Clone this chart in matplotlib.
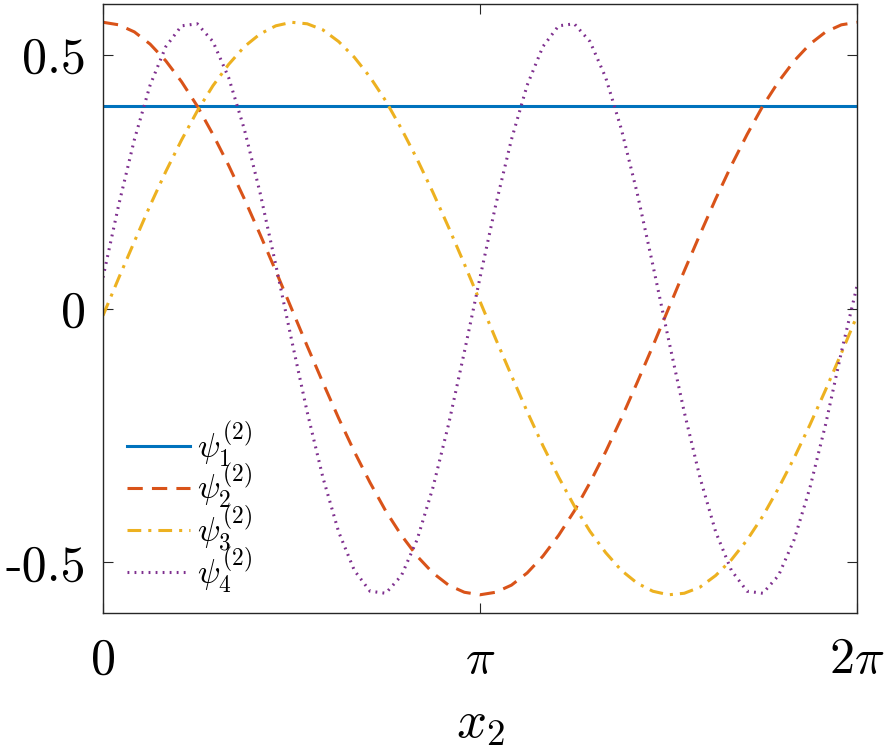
import numpy as np
import matplotlib
matplotlib.use('Agg')
import matplotlib.pyplot as plt

plt.rcParams['mathtext.fontset'] = 'cm'
plt.rcParams['axes.unicode_minus'] = False

# sample points: x2 = k*pi/24, k = 0..48
x2 = np.arange(49) * np.pi / 24

psi1 = [0.399] * 49

psi2 = [0.564, 0.559, 0.545, 0.521, 0.488, 0.447, 0.399, 0.343, 0.282, 0.216,
        0.146, 0.074, 0.0, -0.074, -0.146, -0.216, -0.282, -0.343, -0.399,
        -0.447, -0.488, -0.521, -0.545, -0.559, -0.564, -0.559, -0.545, -0.521,
        -0.488, -0.447, -0.399, -0.343, -0.282, -0.216, -0.146, -0.074, 0.0,
        0.074, 0.146, 0.216, 0.282, 0.343, 0.399, 0.447, 0.488, 0.521, 0.545,
        0.559, 0.564]

psi3 = [-0.014, 0.060, 0.132, 0.203, 0.270, 0.332, 0.389, 0.439, 0.481, 0.516,
        0.541, 0.557, 0.564, 0.561, 0.549, 0.526, 0.495, 0.456, 0.409, 0.354,
        0.294, 0.229, 0.160, 0.088, 0.014, -0.060, -0.132, -0.203, -0.270,
        -0.332, -0.389, -0.439, -0.481, -0.516, -0.541, -0.557, -0.564, -0.561,
        -0.549, -0.526, -0.495, -0.456, -0.409, -0.354, -0.294, -0.229, -0.160,
        -0.088, -0.014]

psi4 = [0.061, 0.204, 0.333, 0.440, 0.516, 0.557, 0.561, 0.526, 0.455, 0.353,
        0.228, 0.086, -0.061, -0.204, -0.333, -0.440, -0.516, -0.557, -0.561,
        -0.526, -0.455, -0.353, -0.228, -0.086, 0.061, 0.204, 0.333, 0.440,
        0.516, 0.557, 0.561, 0.526, 0.455, 0.353, 0.228, 0.086, -0.061, -0.204,
        -0.333, -0.440, -0.516, -0.557, -0.561, -0.526, -0.455, -0.353, -0.228,
        -0.086, 0.045]

labels = [r'$\psi_1^{(2)}$', r'$\psi_2^{(2)}$', r'$\psi_3^{(2)}$', r'$\psi_4^{(2)}$']
xtick_labels = [r'$0$', r'$\pi$', r'$2\pi$']
yticks = [-0.5, 0, 0.5]
ytick_labels = ['-0.5', '0', '0.5']

fig = plt.figure(figsize=(8.9, 7.55), dpi=100)
ax = fig.add_axes([0.1157, 0.188, 0.8473, 0.8067])

lw = 2.2
ax.plot(x2, psi1, color='#0072BD', lw=lw, label=labels[0])
ax.plot(x2, psi2, color='#D95319', lw=lw, ls=(0, (5, 3)), label=labels[1])
ax.plot(x2, psi3, color='#EDB120', lw=lw, ls=(0, (4.5, 2.3, 1, 2.3)), label=labels[2])
ax.plot(x2, psi4, color='#7E2F8E', lw=lw, ls=(0, (0.6, 1.7)), label=labels[3])

ax.set_xlim(0, 2 * np.pi)
ax.set_ylim(-0.6, 0.6)
ax.set_xticks([0, np.pi, 2 * np.pi])
ax.set_xticklabels(xtick_labels, fontsize=36)
ax.set_yticks(yticks)
ax.set_yticklabels(ytick_labels, fontsize=36, fontfamily='cmr10')
ax.tick_params(direction='in', top=True, right=True, length=7, width=0.8,
               color='#262626', pad=12)
ax.tick_params(axis='x', pad=16)
for s in ax.spines.values():
    s.set_color('#262626')
    s.set_linewidth(1.0)

ax.set_xlabel(r'$x_2$', fontsize=38, labelpad=9)

ax.legend(loc='upper left', frameon=False, fontsize=24, handlelength=1.9,
          handletextpad=0.2, labelspacing=-0.22, borderaxespad=0.0,
          bbox_to_anchor=(0.014, 0.34))

fig.savefig('out.png', dpi=100)
